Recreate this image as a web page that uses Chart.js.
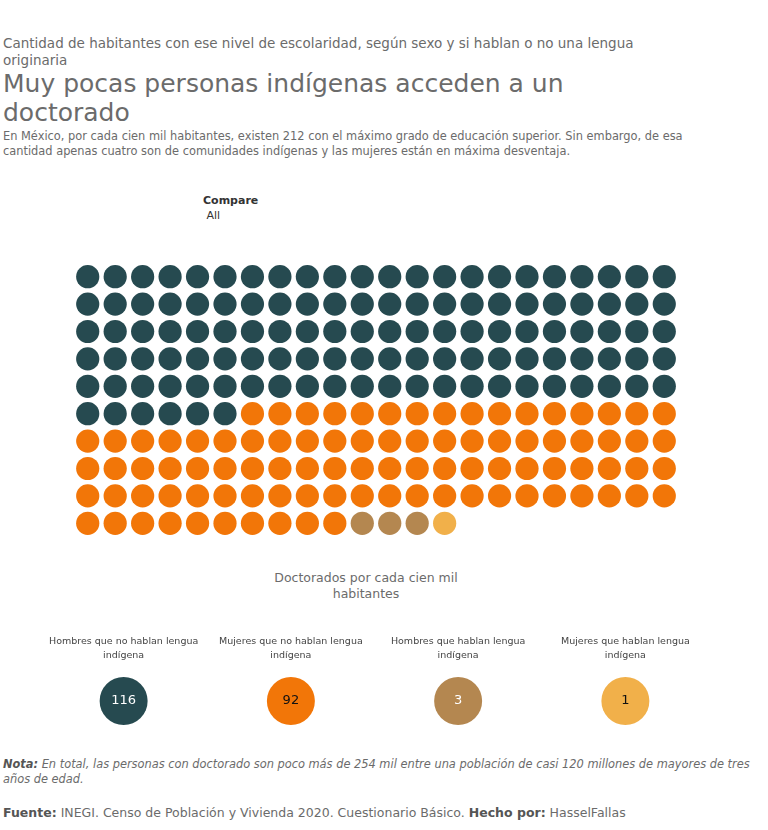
<!DOCTYPE html>
<html>
<head>
<meta charset="utf-8">
<script src="https://cdn.jsdelivr.net/npm/chart.js@4"></script>
<style>
  body { margin: 0; background: #fff; font-family: "DejaVu Sans", sans-serif; }
  #page { position: relative; width: 768px; height: 830px; overflow: hidden; }
  .t { position: absolute; left: 3px; color: #6b6b6b; white-space: nowrap; }
  #kicker { top: 35px; font-size: 13.5px; line-height: 17px; }
  #title { top: 69px; font-size: 25px; line-height: 29px; }
  #desc { top: 129px; font-size: 11.4px; line-height: 15px; }
  #compare { left: 203px; top: 193px; font-size: 11px; line-height: 15px; color: #333; }
  #unit { left: 166px; width: 400px; top: 570px; font-size: 12.5px; line-height: 16px; text-align: center; }
  #nota { top: 757px; font-size: 11.4px; line-height: 15px; font-style: italic; }
  #fuente { top: 805px; font-size: 12.5px; line-height: 16px; }
  b { color: #555; }
  .box { position: absolute; left: 0; width: 768px; }
  canvas { display: block; }
</style>
</head>
<body>
<div id="page">
  <div class="t" id="kicker">Cantidad de habitantes con ese nivel de escolaridad, según sexo y si hablan o no una lengua<br>originaria</div>
  <div class="t" id="title">Muy pocas personas indígenas acceden a un<br>doctorado</div>
  <div class="t" id="desc">En México, por cada cien mil habitantes, existen 212 con el máximo grado de educación superior. Sin embargo, de esa<br>cantidad apenas cuatro son de comunidades indígenas y las mujeres están en máxima desventaja.</div>
  <div class="t" id="compare"><b style="color:#333">Compare</b><br>&nbsp;All</div>
  <div class="box" style="top:240px;height:310px"><canvas id="waffle" width="768" height="310"></canvas></div>
  <div class="t" id="unit">Doctorados por cada cien mil<br>habitantes</div>
  <div class="box" style="top:625px;height:110px"><canvas id="legend" width="768" height="110"></canvas></div>
  <div class="t" id="nota"><b>Nota:</b> En total, las personas con doctorado son poco más de 254 mil entre una población de casi 120 millones de mayores de tres<br>años de edad.</div>
  <div class="t" id="fuente"><b>Fuente:</b> INEGI. Censo de Población y Vivienda 2020. Cuestionario Básico. <b>Hecho por:</b> HasselFallas</div>
</div>
<script>
// categorias y valores (doctorados por cada cien mil habitantes)
const categories = [
  ["Hombres que no hablan lengua", "indígena"],
  ["Mujeres que no hablan lengua", "indígena"],
  ["Hombres que hablan lengua", "indígena"],
  ["Mujeres que hablan lengua", "indígena"]
];
const counts = [116, 92, 3, 1];
const colors = ["#264a50", "#f27608", "#b48750", "#f1b04a"];
const numberColors = ["#ffffff", "#111111", "#ffffff", "#111111"];
const columns = 22;

// puntos del waffle: cada persona es un círculo, llenando fila por fila
let offset = 0;
const waffleSets = counts.map((n, k) => {
  const pts = [];
  for (let i = 0; i < n; i++) {
    const idx = offset + i;
    pts.push({ x: idx % columns, y: Math.floor(idx / columns) });
  }
  offset += n;
  return {
    label: categories[k].join(" "),
    data: pts,
    backgroundColor: colors[k],
    borderWidth: 0,
    pointRadius: 11.6,
    pointHoverRadius: 11.6
  };
});
const rows = Math.ceil(offset / columns);

new Chart(document.getElementById("waffle").getContext("2d"), {
  type: "scatter",
  data: { datasets: waffleSets },
  options: {
    responsive: false,
    animation: false,
    layout: { autoPadding: false, padding: { left: 74, right: 90, top: 23, bottom: 13 } },
    plugins: { legend: { display: false }, tooltip: { enabled: false } },
    scales: {
      x: { display: false, min: -0.5, max: columns - 0.5 },
      y: { display: false, min: -0.5, max: rows - 0.5, reverse: true }
    }
  }
});

// leyenda con círculos y etiquetas
const legendLabels = {
  id: "legendLabels",
  afterDatasetsDraw(chart) {
    const { ctx, chartArea } = chart;
    const meta = chart.getDatasetMeta(0);
    ctx.save();
    ctx.textAlign = "center";
    ctx.textBaseline = "middle";
    meta.data.forEach((pt, i) => {
      ctx.font = "9.5px 'DejaVu Sans'";
      ctx.fillStyle = "#444";
      ctx.fillText(categories[i][0], pt.x, chartArea.top - 35);
      ctx.fillText(categories[i][1], pt.x, chartArea.top - 21);
      ctx.font = "13px 'DejaVu Sans'";
      ctx.fillStyle = numberColors[i];
      ctx.fillText(String(counts[i]), pt.x, pt.y);
    });
    ctx.restore();
  }
};

new Chart(document.getElementById("legend").getContext("2d"), {
  type: "scatter",
  data: {
    datasets: [{
      data: counts.map((c, i) => ({ x: i, y: 0 })),
      backgroundColor: colors,
      borderWidth: 0,
      pointRadius: 24,
      pointHoverRadius: 24
    }]
  },
  options: {
    responsive: false,
    animation: false,
    clip: false,
    layout: { autoPadding: false, padding: { left: 40, right: 59, top: 52, bottom: 10 } },
    plugins: { legend: { display: false }, tooltip: { enabled: false } },
    scales: {
      x: { display: false, min: -0.5, max: counts.length - 0.5 },
      y: { display: false, min: -1, max: 1 }
    }
  },
  plugins: [legendLabels]
});
</script>
</body>
</html>
